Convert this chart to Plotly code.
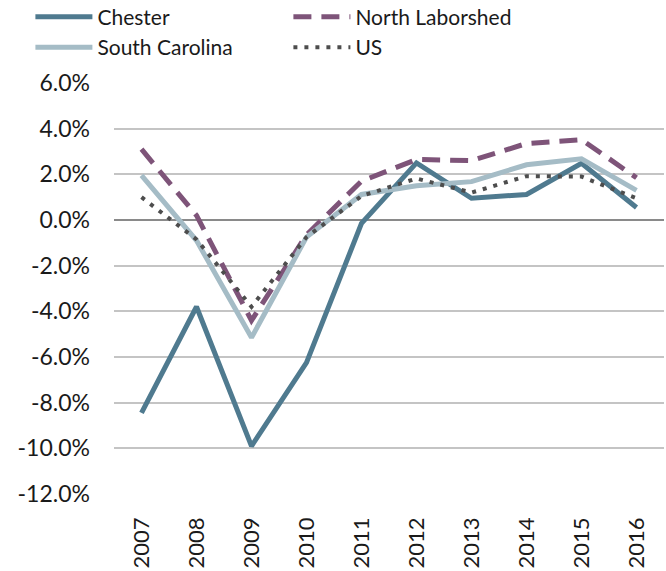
import plotly.graph_objects as go

years = ["2007", "2008", "2009", "2010", "2011", "2012", "2013", "2014", "2015", "2016"]
chester = [-8.45, -3.8, -9.9, -6.25, -0.15, 2.5, 0.95, 1.12, 2.48, 0.55]
north_laborshed = [3.1, 0.2, -4.4, -0.65, 1.7, 2.65, 2.6, 3.35, 3.52, 1.85]
south_carolina = [1.95, -0.9, -5.15, -0.75, 1.12, 1.5, 1.68, 2.42, 2.68, 1.3]
us = [1.0, -0.85, -3.8, -0.75, 1.05, 1.82, 1.2, 1.92, 1.9, 0.95]
y_ticks = [6, 4, 2, 0, -2, -4, -6, -8, -10, -12]

FONT = "Lato, Noto Sans, sans-serif"

fig = go.Figure()
fig.add_trace(go.Scatter(x=years, y=chester, name="Chester", mode="lines",
                         line=dict(color="#4f7a8f", width=5)))
fig.add_trace(go.Scatter(x=years, y=north_laborshed, name="North Laborshed", mode="lines",
                         line=dict(color="#7e5479", width=5, dash="18px,10px")))
fig.add_trace(go.Scatter(x=years, y=south_carolina, name="South Carolina", mode="lines",
                         line=dict(color="#a5bcc6", width=5)))
fig.add_trace(go.Scatter(x=years, y=us, name="US", mode="lines",
                         line=dict(color="#4d4d4d", width=4, dash="4px,7px")))

fig.update_layout(
    width=666, height=571,
    margin=dict(l=114, r=2, t=83, b=77, autoexpand=False),
    paper_bgcolor="white", plot_bgcolor="white",
    font=dict(family=FONT, size=21, color="#1a1a1a"),
    showlegend=True,
    legend=dict(orientation="h", x=-0.152, y=1.21, xanchor="left", yanchor="top",
                entrywidth=186, entrywidthmode="pixels", itemwidth=57,
                font=dict(size=21, color="#1a1a1a"), tracegroupgap=0,
                bgcolor="rgba(0,0,0,0)"),
    xaxis=dict(type="category", tickangle=-90, showgrid=False, showline=False,
               ticks="", ticklabelstandoff=18, range=[-0.5, 9.5],
               tickfont=dict(size=22)),
    yaxis=dict(range=[-12, 6], tickvals=y_ticks,
               ticktext=[f"{v:.1f}%" for v in y_ticks],
               showgrid=True, gridcolor="#c4c4c4", gridwidth=1.5,
               zeroline=True, zerolinecolor="#8a8a8a", zerolinewidth=1.5,
               showline=False, ticks="", ticklabelstandoff=23,
               tickfont=dict(size=23)),
)

fig.write_html("out.html", config={"displayModeBar": False},
               post_script="document.body.style.margin='0';document.body.style.padding='0';")
